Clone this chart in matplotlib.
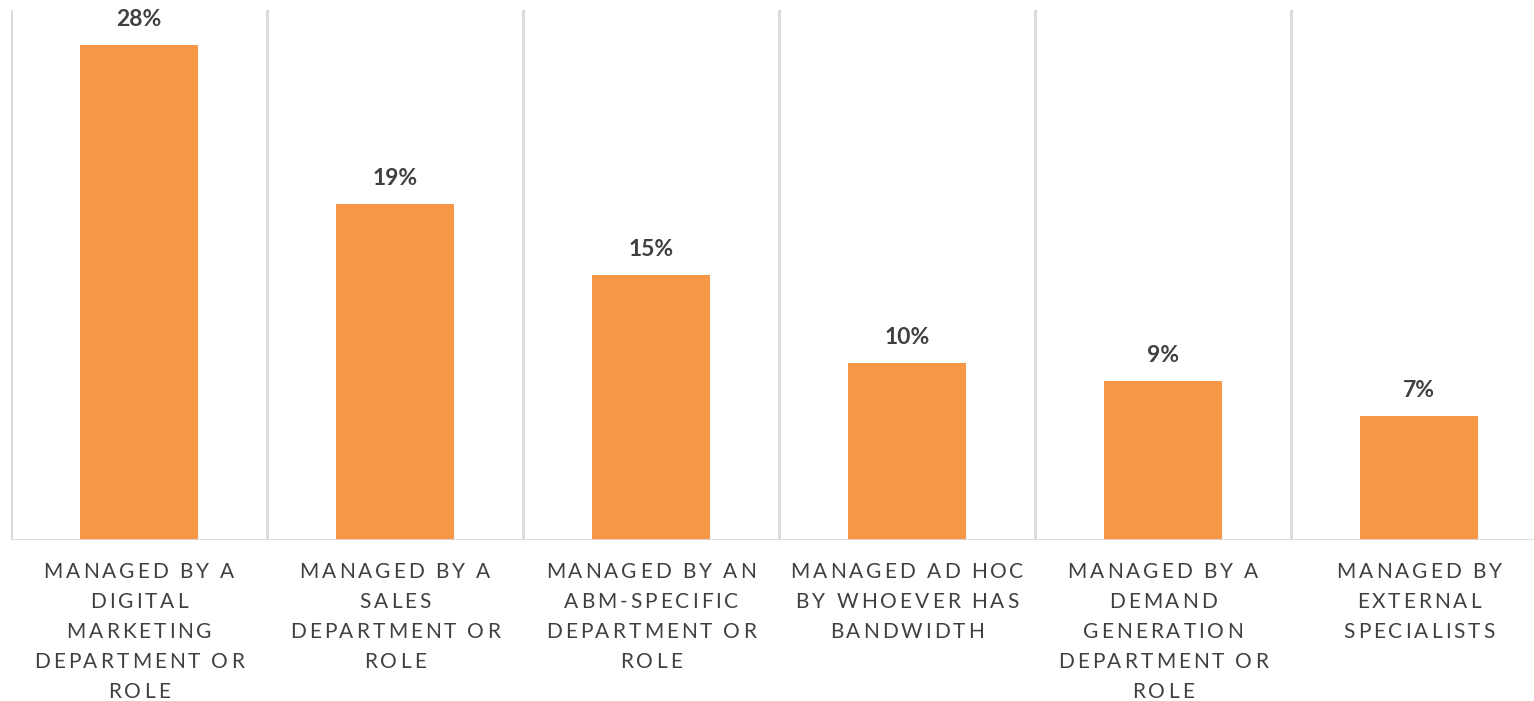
import matplotlib
matplotlib.use("Agg")
import matplotlib.pyplot as plt
from matplotlib.transforms import IdentityTransform

categories = [
    "MANAGED BY A\nDIGITAL\nMARKETING\nDEPARTMENT OR\nROLE",
    "MANAGED BY A\nSALES\nDEPARTMENT OR\nROLE",
    "MANAGED BY AN\nABM-SPECIFIC\nDEPARTMENT OR\nROLE",
    "MANAGED AD HOC\nBY WHOEVER HAS\nBANDWIDTH",
    "MANAGED BY A\nDEMAND\nGENERATION\nDEPARTMENT OR\nROLE",
    "MANAGED BY\nEXTERNAL\nSPECIALISTS",
]
values = [28, 19, 15, 10, 9, 7]

BAR = "#F79646"
GRID = "#D9D9D9"
TXT = "#404040"
FONT = "Lato"

W, H = 1534, 701
fig = plt.figure(figsize=(W / 100, H / 100), dpi=100)
# plot area runs a bit past the right edge
ax = fig.add_axes([11 / W, 1 - 540 / H, 1536 / W, 530 / H])

x = list(range(len(values)))
ax.bar(x, values, width=0.46, color=BAR, zorder=2)
ax.set_xlim(-0.5, len(values) - 0.5)
ax.set_ylim(0, 30)

# vertical separators between categories
for b in [i - 0.5 for i in range(len(values) + 1)]:
    ax.axvline(b, color=GRID, lw=2, zorder=1)
ax.axhline(0, color=GRID, lw=2, zorder=3)

for s in ax.spines.values():
    s.set_visible(False)
ax.set_xticks([])
ax.set_yticks([])

for xi, v in zip(x, values):
    ax.annotate(f"{v}%", (xi, v), xytext=(0, 26), textcoords="offset pixels",
                ha="center", va="center", fontsize=16.5, fontweight="bold",
                color=TXT, family=FONT)

# category labels with letter spacing, laid out glyph by glyph
renderer = fig.canvas.get_renderer()
fs = 15
track = 3.0


def text_width(s):
    t = fig.text(0, 0, s, fontsize=fs, family=FONT)
    w = t.get_window_extent(renderer).width
    t.remove()
    return w


space_w = text_width("A A") - text_width("AA")
widths = {}


def char_w(c):
    if c not in widths:
        widths[c] = space_w if c == " " else text_width(c)
    return widths[c]


line_gap = 30
first_line = H - 572
for xi, label in zip(x, categories):
    cx = ax.transData.transform((xi, 0))[0]
    for k, line in enumerate(label.split("\n")):
        total = sum(char_w(c) for c in line) + track * (len(line) - 1)
        px = cx - total / 2
        py = first_line - k * line_gap
        for c in line:
            if c != " ":
                fig.text(px, py, c, transform=IdentityTransform(), fontsize=fs,
                         family=FONT, color=TXT, ha="left", va="center")
            px += char_w(c) + track

fig.savefig("out.png", dpi=100)
